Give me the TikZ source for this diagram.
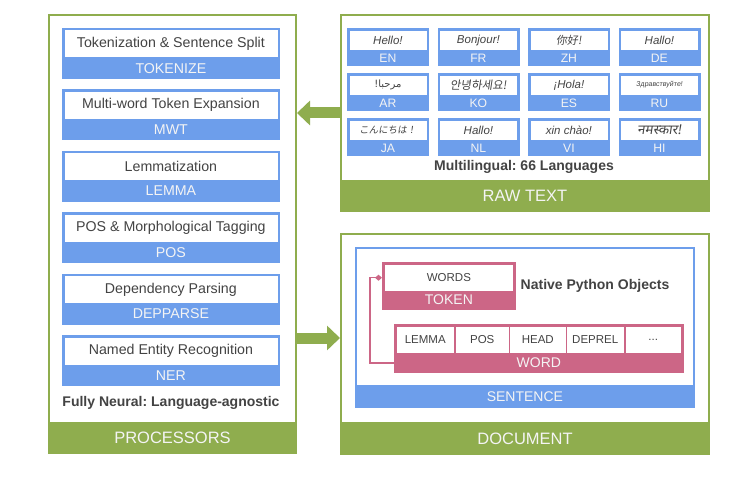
\documentclass[tikz,border=0pt]{standalone}
\usepackage{fontspec}
\setmainfont{Liberation Sans}
\newfontfamily\zhfont[FakeSlant=0.15]{Noto Sans CJK SC}
\newfontfamily\jafont[FakeSlant=0.15]{Noto Sans CJK JP}
\newfontfamily\kofont[FakeSlant=0.15]{Noto Sans CJK KR}
\newfontfamily\arfont[Script=Arabic]{DejaVu Sans}
\newfontfamily\hifont[Script=Devanagari,FakeSlant=0.15]{Noto Sans}
\newfontfamily\rufont[FakeSlant=0.12]{Liberation Sans}
\TeXXeTstate=1
\frenchspacing
\usetikzlibrary{arrows.meta}
\definecolor{pgreen}{HTML}{8FAD4E}
\definecolor{pblue}{HTML}{6D9EEB}
\definecolor{ppink}{HTML}{CC6686}
\definecolor{ink}{HTML}{434343}
\definecolor{bandtxt}{HTML}{F4F4F4}
\newcommand\fsz[1]{\fontsize{#1}{#1}\selectfont}
\tikzset{
  panel/.style={draw=pgreen, line width=2pt, fill=white, inner sep=0pt, anchor=north west},
  band/.style={fill=pgreen, draw=pgreen, line width=2pt, inner sep=0pt, text=bandtxt, anchor=south, font=\fsz{16.5}},
  bbox/.style={fill=pblue, draw=pblue, line width=0.8pt, inner sep=0pt, anchor=north west},
  pbox/.style={fill=ppink, draw=ppink, line width=0.8pt, inner sep=0pt, anchor=north west},
  wbox/.style={fill=white, draw=white, line width=0.5pt, inner sep=0pt, text=ink},
  lbl/.style={inner sep=0pt, text=bandtxt},
  boldtxt/.style={inner sep=0pt, text=ink, font=\bfseries\fsz{14}},
  blockarrow/.style={draw=pgreen, line width=11pt, -{Triangle[length=13pt,width=24pt]}},
  conn/.style={draw=ppink, line width=1.5pt, -{Diamond[length=7pt,width=6pt]}},
}
\begin{document}
\begin{tikzpicture}[x=1pt,y=-1pt]
\fill[white] (0,0) rectangle (750,481);
\useasboundingbox (0,0) rectangle (750,481);

% ---------- PROCESSORS ----------
\node[panel, minimum width=247pt, minimum height=438pt] (proc) at (48,14) {};
\node[band, minimum width=247pt, minimum height=30pt] (procL) at (proc.south) {PROCESSORS};
\foreach \n/\t/\l [count=\i from 0] in {
  ptok/Tokenization \& Sentence Split/TOKENIZE,
  pmwt/Multi-word Token Expansion/MWT,
  plem/Lemmatization/LEMMA,
  ppos/POS \& Morphological Tagging/POS,
  pdep/Dependency Parsing/DEPPARSE,
  pner/Named Entity Recognition/NER}
{
  \node[bbox, minimum width=217pt, minimum height=50pt] (\n) at (62,28+61.4*\i) {};
  \node[wbox, minimum width=212pt, minimum height=26pt, anchor=north, font=\fsz{14.2}] (\n T) at ([yshift=-2.5pt]\n.north) {\t};
  \node[lbl, font=\fsz{14.2}] (\n L) at ([yshift=10.5pt]\n.south) {\l};
}
\node[boldtxt] (fully) at (171,403) {Fully Neural: Language-agnostic};

% ---------- RAW TEXT ----------
\node[panel, minimum width=368pt, minimum height=196pt] (raw) at (340,14) {};
\node[band, minimum width=368pt, minimum height=30pt] (rawL) at (raw.south) {RAW TEXT};
\foreach \n/\t/\l/\c/\r in {
  en/{\itshape\fsz{11.5}Hello!}/EN/0/0,
  fr/{\itshape\fsz{11.5}Bonjour!}/FR/1/0,
  zh/{\zhfont\fsz{11}你好!}/ZH/2/0,
  de/{\itshape\fsz{11.5}Hallo!}/DE/3/0,
  ar/{\arfont\fsz{10}\beginR مرحبا!\endR}/AR/0/1,
  ko/{\kofont\fsz{11.5}안녕하세요!}/KO/1/1,
  es/{\itshape\fsz{11.5}¡Hola!}/ES/2/1,
  ru/{\rufont\fsz{7}Здравствуйте!}/RU/3/1,
  ja/{\jafont\fsz{9.5}こんにちは！}/JA/0/2,
  nl/{\itshape\fsz{11.5}Hallo!}/NL/1/2,
  vi/{\itshape\fsz{11.5}xin chào!}/VI/2/2,
  hi/{\hifont\fsz{13.5}नमस्कार!}/HI/3/2}
{
  \node[bbox, minimum width=81pt, minimum height=37pt] (\n) at (347+90.5*\c,28+45*\r) {};
  \node[wbox, minimum width=76pt, minimum height=18pt, anchor=north] (\n T) at ([yshift=-2.8pt]\n.north) {\t};
  \node[lbl, font=\fsz{12.2}] (\n L) at ([yshift=7.5pt]\n.south) {\l};
}
\node[boldtxt] (multi) at (524,167) {Multilingual: 66 Languages};

% ---------- DOCUMENT ----------
\node[panel, minimum width=368pt, minimum height=220pt] (doc) at (340,233) {};
\node[band, minimum width=368pt, minimum height=31pt] (docL) at (doc.south) {DOCUMENT};

\node[draw=pblue, line width=1.8pt, fill=white, inner sep=0pt, anchor=north west,
      minimum width=338pt, minimum height=159pt] (sent) at (355,247) {};
\node[fill=pblue, draw=pblue, line width=1.8pt, inner sep=0pt, anchor=south, text=bandtxt,
      font=\fsz{14}, minimum width=338pt, minimum height=21pt] (sentL) at (sent.south) {SENTENCE};

\node[pbox, minimum width=133pt, minimum height=47pt] (token) at (382,262) {};
\node[wbox, minimum width=127pt, minimum height=25pt, anchor=north, font=\fsz{11.5}] (tokenT) at ([yshift=-3pt]token.north) {WORDS};
\node[lbl, font=\fsz{14}] (tokenL) at ([yshift=10.5pt]token.south) {TOKEN};

\node[boldtxt] (native) at (595,286) {Native Python Objects};

\node[pbox, minimum width=289pt, minimum height=48pt] (word) at (394,324) {};
\foreach \n/\t/\x/\w in {
  lemma/LEMMA/397/56,
  pos/POS/456/52,
  head/HEAD/510/55,
  deprel/DEPREL/567/56}
{
  \node[wbox, anchor=north west, minimum width=\w pt, minimum height=25pt, font=\fsz{11.5}] (\n) at (\x,327) {\t};
}
\node[wbox, anchor=north west, minimum width=54pt, minimum height=25pt, font=\fsz{11.5}] (more) at (626,327) {...};
\node[lbl, font=\fsz{14}] (wordL) at ([yshift=10pt]word.south) {WORD};

\coordinate (bend) at (370,300);
\draw[conn] (wordL -| word.west) -| (bend |- tokenT) -- (tokenT -| token.west);

% ---------- ARROWS ----------
\draw[blockarrow] (raw.west) -- (raw.west -| proc.east);
\coordinate (a2) at (295,338);
\draw[blockarrow] (a2) -- (a2 -| doc.west);
\end{tikzpicture}
\end{document}
